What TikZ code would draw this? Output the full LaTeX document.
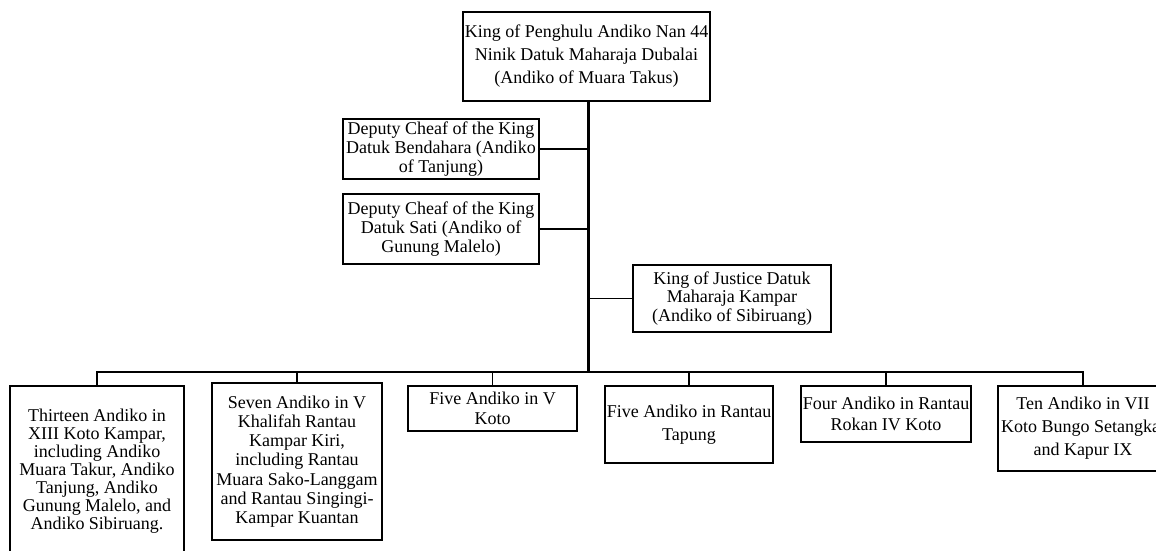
\documentclass[tikz,border=0pt]{standalone}
\usepackage{fontspec}
\setmainfont{Liberation Serif}
\tikzset{
  rank/.style={draw, line width=0.9pt, align=center, inner xsep=1pt, inner ysep=0.5pt,
    font=\fontsize{9}{#1}\selectfont},
  rank/.default=10,
  link/.style={line width=0.9pt},
  trunk/.style={line width=1.5pt},
}

\begin{document}
\begin{tikzpicture}[x=0.5pt,y=-0.5pt]
  \useasboundingbox (0,0) rectangle (1156,551);
  \node[rank=11.5, minimum width=122.5pt, minimum height=44.5pt] (king) at (586.5,56.5)
    {King of Penghulu Andiko Nan 44\\Ninik Datuk Maharaja Dubalai\\(Andiko of Muara Takus)};
  \node[rank=9.6, minimum width=98pt, minimum height=30pt] (bendahara) at (441,149)
    {Deputy Cheaf of the King\\Datuk Bendahara (Andiko\\of Tanjung)};
  \node[rank=9.6, minimum width=98pt, minimum height=35pt] (sati) at (441,229)
    {Deputy Cheaf of the King\\Datuk Sati (Andiko of\\Gunung Malelo)};
  \node[rank=9.4, minimum width=99pt, minimum height=33.5pt] (justice) at (732,298.5)
    {King of Justice Datuk\\Maharaja Kampar\\(Andiko of Sibiruang)};

  \node[rank=9, minimum width=87pt, minimum height=85pt] (xiii) at (97,471)
    {Thirteen Andiko in\\XIII Koto Kampar,\\including Andiko\\Muara Takur, Andiko\\Tanjung, Andiko\\Gunung Malelo, and\\Andiko Sibiruang.};
  \node[rank=9.6, minimum width=85pt, minimum height=78.5pt] (kiri) at (297,461.5)
    {Seven Andiko in V\\Khalifah Rantau\\Kampar Kiri,\\including Rantau\\Muara Sako-Langgam\\and Rantau Singingi-\\Kampar Kuantan};
  \node[rank=10, minimum width=84.5pt, minimum height=22.5pt] (vkoto) at (492.5,408.5)
    {Five Andiko in V\\Koto};
  \node[rank=11.3, minimum width=84pt, minimum height=38.5pt] (tapung) at (689,424.5)
    {Five Andiko in Rantau\\Tapung};
  \node[rank=10.5, minimum width=84pt, minimum height=28pt] (rokan) at (886,414)
    {Four Andiko in Rantau\\Rokan IV Koto};
  \node[rank=11.5, minimum width=85pt, minimum height=42.5pt] (bungo) at (1083,428.5)
    {Ten Andiko in VII\\Koto Bungo Setangkai\\and Kapur IX};

  \coordinate (bus) at (588,372);
  \draw[trunk] (bus |- king.south) -- (bus);
  \draw[link] (bendahara.east) -- (bendahara.east -| bus);
  \draw[link] (sati.east) -- (sati.east -| bus);
  \draw[link] (justice.west) -- (justice.west -| bus);
  \foreach \n in {xiii,kiri,vkoto,tapung,rokan,bungo}
    \draw[link] (bus) -| (\n.north);
\end{tikzpicture}
\end{document}
